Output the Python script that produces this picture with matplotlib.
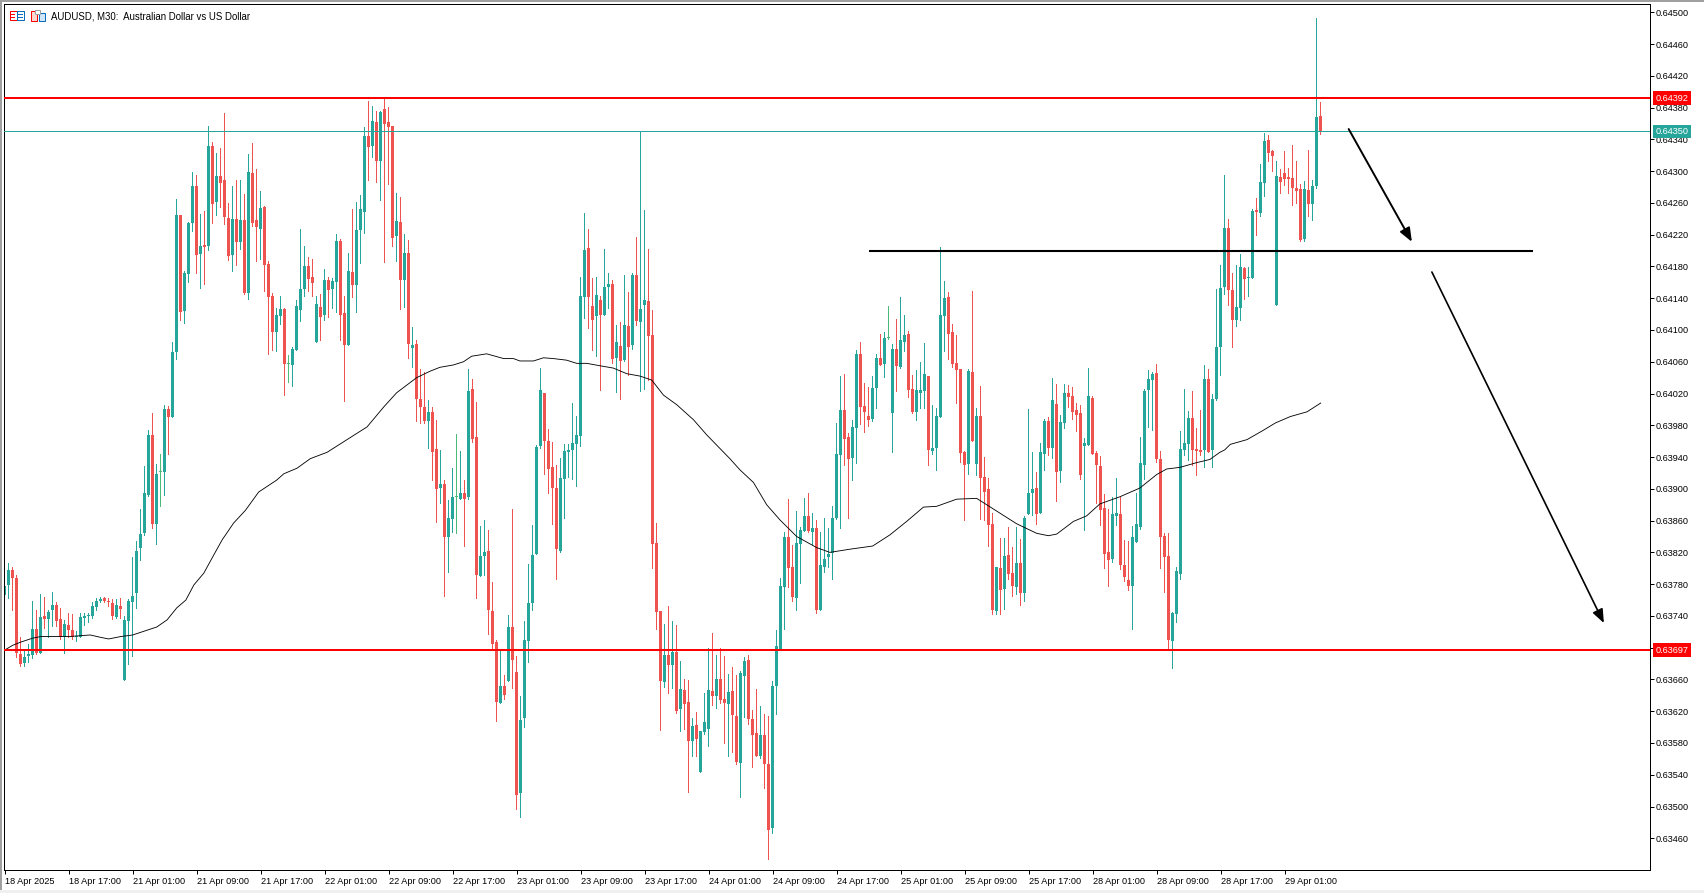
#!/usr/bin/env python
import numpy as np
import matplotlib
matplotlib.use("Agg")
import matplotlib.pyplot as plt
from matplotlib.patches import Rectangle

# AUDUSD M30 candles, prices in points (1e-5)
opens = [
    63766, 63779, 63798, 63788, 63692, 63681, 63690, 63691, 63723, 63693,
    63740, 63736, 63747, 63754, 63736, 63714, 63729, 63722, 63714, 63714,
    63737, 63740, 63740, 63751, 63759, 63763, 63759, 63756, 63739, 63752,
    63659, 63734, 63758, 63769, 63826, 63844, 63892, 63968, 63856, 63921,
    63921, 64000, 63990, 64072, 64245, 64124, 64171, 64235, 64281, 64196,
    64207, 64206, 64332, 64261, 64294, 64289, 64241, 64194, 64240, 64211,
    64239, 64147, 64298, 64239, 64227, 64255, 64183, 64143, 64098, 64118,
    64127, 64057, 64056, 64075, 64125, 64152, 64181, 64167, 64085, 64129,
    64119, 64163, 64152, 64161, 64212, 64122, 64081, 64173, 64157, 64226,
    64249, 64344, 64332, 64362, 64313, 64378, 64362, 64357, 64218, 64236,
    64163, 64197, 64077, 64082, 64013, 64003, 63985, 63997, 63950, 63901,
    63906, 63839, 63862, 63890, 63887, 63895, 63890, 64026, 63965, 63790,
    63815, 63822, 63746, 63707, 63630, 63652, 63658, 63726, 63669, 63517,
    63612, 63708, 63756, 63818, 63954, 64021, 63960, 63928, 63901, 63822,
    63912, 63946, 63949, 63957, 63967, 64142, 64203, 64130, 64118, 64138,
    64119, 64154, 64158, 64065, 64080, 64062, 64105, 64081, 64169, 64110,
    64132, 64136, 64094, 63832, 63746, 63657, 63691, 63678, 63695, 63623,
    63647, 63632, 63583, 63603, 63543, 63594, 63598, 63646, 63639, 63660,
    63635, 63629, 63646, 63614, 63555, 63664, 63685, 63610, 63593, 63564,
    63590, 63553, 63473, 63652, 63697, 63776, 63839, 63801, 63763, 63831,
    63847, 63866, 63846, 63851, 63747, 63801, 63814, 63819, 63863, 63943,
    63999, 63965, 63939, 63977, 64070, 64004, 63992, 63988, 64027, 64065,
    64057, 64090, 63995, 64076, 64053, 64085, 64095, 64026, 63997, 64021,
    64023, 64042, 63948, 63951, 63990, 64118, 64142, 64097, 64058, 64051,
    63946, 63931, 64047, 63931, 63992, 63915, 63900, 63856, 63746, 63800,
    63774, 63817, 63794, 63776, 63807, 63769, 63868, 63895, 63901, 63870,
    63944, 63985, 63951, 64007, 63922, 63983, 64021, 64017, 63999, 63996,
    63954, 63955, 64014, 63945, 63929, 63876, 63820, 63812, 63866, 63868,
    63804, 63785, 63778, 63833, 63852, 63930, 64024, 64037, 64046, 63938,
    63841, 63815, 63708, 63742, 63793, 63949, 63957, 63989, 63950, 63948,
    63949, 64038, 63949, 64013, 64079, 64154, 64228, 64150, 64113, 64128,
    64178, 64165, 64165, 64251, 64247, 64285, 64339, 64325, 64131, 64293,
    64298, 64293, 64291, 64279, 64278, 64214, 64276, 64259, 64281, 64369,
]
closes = [
    63778, 63798, 63788, 63693, 63680, 63688, 63692, 63723, 63693, 63739,
    63736, 63745, 63754, 63734, 63714, 63730, 63722, 63714, 63715, 63739,
    63740, 63741, 63752, 63759, 63761, 63759, 63758, 63740, 63754, 63749,
    63735, 63759, 63765, 63822, 63843, 63895, 63968, 63856, 63919, 63921,
    64000, 63990, 64072, 64245, 64123, 64172, 64235, 64281, 64194, 64206,
    64205, 64332, 64259, 64294, 64285, 64242, 64193, 64240, 64211, 64239,
    64147, 64299, 64235, 64230, 64254, 64182, 64142, 64098, 64119, 64127,
    64057, 64057, 64076, 64130, 64152, 64180, 64164, 64159, 64133, 64116,
    64163, 64150, 64162, 64212, 64119, 64081, 64174, 64157, 64226, 64252,
    64344, 64330, 64363, 64313, 64374, 64359, 64356, 64216, 64237, 64163,
    64197, 64082, 64081, 64013, 64003, 63985, 63997, 63947, 63900, 63906,
    63839, 63863, 63890, 63890, 63895, 63887, 64023, 63963, 63792, 63815,
    63820, 63747, 63705, 63632, 63652, 63640, 63726, 63685, 63514, 63609,
    63710, 63756, 63817, 63953, 64024, 63960, 63925, 63901, 63824, 63914,
    63948, 63949, 63958, 63968, 64143, 64201, 64142, 64113, 64144, 64119,
    64154, 64158, 64064, 64085, 64061, 64106, 64079, 64169, 64111, 64126,
    64138, 64092, 63831, 63745, 63658, 63691, 63678, 63695, 63620, 63648,
    63629, 63583, 63601, 63585, 63595, 63606, 63647, 63639, 63660, 63634,
    63630, 63644, 63615, 63556, 63668, 63683, 63610, 63590, 63563, 63590,
    63554, 63471, 63652, 63702, 63778, 63839, 63800, 63764, 63832, 63848,
    63866, 63847, 63851, 63747, 63804, 63812, 63818, 63863, 63944, 63999,
    63963, 63937, 63978, 64070, 64003, 63997, 63987, 64027, 64065, 64056,
    64090, 64090, 64076, 64055, 64087, 64094, 64024, 63997, 64024, 64024,
    64045, 63949, 63951, 63992, 64119, 64140, 64095, 64057, 64050, 63945,
    63930, 64048, 63960, 63992, 63914, 63896, 63855, 63747, 63801, 63773,
    63816, 63793, 63778, 63807, 63769, 63863, 63895, 63900, 63868, 63946,
    63985, 63951, 64012, 63921, 63984, 64021, 64016, 63997, 63993, 63918,
    63958, 64017, 63944, 63930, 63873, 63818, 63810, 63868, 63870, 63804,
    63789, 63778, 63839, 63856, 63933, 64023, 64038, 64045, 63938, 63839,
    63814, 63710, 63744, 63797, 63950, 63958, 63989, 63949, 63948, 63947,
    64038, 63946, 64013, 64079, 64153, 64228, 64150, 64113, 64129, 64179,
    64164, 64167, 64250, 64249, 64286, 64338, 64323, 64319, 64294, 64286,
    64290, 64290, 64279, 64275, 64213, 64278, 64259, 64281, 64368, 64350,
]
highs = [
    63783, 63806, 63801, 63792, 63714, 63697, 63705, 63759, 63748, 63768,
    63764, 63748, 63770, 63758, 63750, 63735, 63744, 63742, 63721, 63744,
    63744, 63744, 63758, 63763, 63764, 63764, 63763, 63761, 63761, 63763,
    63740, 63761, 63814, 63834, 63875, 63929, 63974, 63995, 63931, 63944,
    64006, 64004, 64085, 64265, 64245, 64174, 64236, 64299, 64295, 64246,
    64250, 64357, 64337, 64323, 64329, 64373, 64260, 64281, 64289, 64289,
    64271, 64322, 64335, 64303, 64275, 64256, 64187, 64146, 64128, 64143,
    64128, 64068, 64079, 64138, 64227, 64206, 64192, 64189, 64143, 64145,
    64177, 64167, 64166, 64221, 64215, 64143, 64197, 64252, 64261, 64270,
    64356, 64388, 64382, 64376, 64376, 64391, 64381, 64357, 64272, 64268,
    64221, 64213, 64104, 64087, 64051, 64047, 64012, 64003, 63987, 63949,
    63911, 63886, 63926, 63969, 63948, 63911, 64051, 64038, 64009, 63853,
    63861, 63848, 63783, 63710, 63696, 63666, 63741, 63875, 63689, 63639,
    63734, 63805, 63855, 63955, 64052, 64021, 63975, 63959, 63930, 63939,
    63956, 63956, 64008, 63992, 64167, 64247, 64227, 64165, 64167, 64143,
    64202, 64172, 64163, 64106, 64110, 64169, 64148, 64172, 64217, 64349,
    64251, 64202, 64125, 63857, 63746, 63730, 63752, 63734, 63729, 63683,
    63660, 63659, 63612, 63619, 63595, 63643, 63700, 63718, 63691, 63700,
    63689, 63667, 63676, 63666, 63671, 63688, 63691, 63622, 63648, 63627,
    63617, 63614, 63658, 63722, 63788, 63846, 63887, 63829, 63872, 63852,
    63889, 63895, 63870, 63861, 63846, 63863, 63851, 63878, 63983, 64042,
    64045, 63970, 63987, 64075, 64085, 64033, 64028, 64042, 64070, 64095,
    64098, 64130, 64082, 64114, 64142, 64119, 64099, 64043, 64050, 64060,
    64084, 64042, 64006, 64002, 64205, 64162, 64148, 64108, 64094, 64051,
    63948, 64051, 64149, 64002, 64029, 63940, 63914, 63870, 63801, 63838,
    63838, 63852, 63827, 63852, 63837, 63866, 64001, 63946, 63921, 63958,
    63988, 63990, 64040, 64032, 63993, 64032, 64031, 64028, 64008, 64006,
    63964, 64052, 64017, 63948, 63941, 63894, 63875, 63890, 63914, 63890,
    63836, 63834, 63853, 63895, 63965, 64026, 64050, 64047, 64057, 63948,
    63844, 63844, 63745, 63801, 63973, 64026, 63998, 64023, 63977, 63999,
    64056, 64051, 64019, 64152, 64182, 64295, 64240, 64172, 64182, 64196,
    64179, 64179, 64252, 64266, 64309, 64348, 64346, 64327, 64313, 64303,
    64325, 64304, 64333, 64313, 64284, 64288, 64327, 64289, 64493, 64387,
]
lows = [
    63764, 63763, 63747, 63688, 63677, 63677, 63682, 63687, 63692, 63693,
    63725, 63714, 63727, 63727, 63711, 63693, 63714, 63711, 63709, 63714,
    63729, 63732, 63737, 63747, 63758, 63758, 63752, 63736, 63737, 63737,
    63659, 63680, 63689, 63750, 63810, 63842, 63891, 63851, 63831, 63878,
    63892, 63944, 63990, 64063, 64113, 64109, 64160, 64225, 64172, 64153,
    64158, 64201, 64235, 64245, 64255, 64234, 64188, 64174, 64182, 64202,
    64145, 64139, 64231, 64187, 64189, 64149, 64070, 64075, 64074, 64108,
    64018, 64034, 64029, 64075, 64111, 64143, 64149, 64143, 64085, 64088,
    64113, 64116, 64128, 64123, 64088, 64011, 64081, 64142, 64123, 64184,
    64222, 64289, 64318, 64286, 64264, 64186, 64284, 64206, 64187, 64126,
    64129, 64065, 64053, 63985, 63983, 63983, 63951, 63911, 63858, 63882,
    63765, 63795, 63846, 63844, 63887, 63828, 63887, 63959, 63763, 63790,
    63792, 63717, 63700, 63608, 63630, 63635, 63658, 63649, 63497, 63487,
    63600, 63682, 63747, 63818, 63951, 63919, 63895, 63856, 63786, 63821,
    63863, 63915, 63913, 63904, 63954, 64115, 64103, 64075, 64067, 64024,
    64119, 64128, 64058, 64022, 64013, 64061, 64043, 64076, 64106, 64023,
    64026, 64037, 63800, 63724, 63596, 63650, 63643, 63649, 63618, 63595,
    63598, 63518, 63563, 63563, 63543, 63591, 63576, 63628, 63624, 63630,
    63580, 63564, 63569, 63554, 63512, 63613, 63604, 63550, 63563, 63561,
    63523, 63434, 63467, 63617, 63697, 63723, 63776, 63759, 63747, 63781,
    63847, 63846, 63831, 63744, 63747, 63795, 63801, 63786, 63862, 63851,
    63930, 63863, 63911, 63932, 63982, 63971, 63979, 63985, 64002, 64056,
    64041, 64089, 63946, 64023, 64052, 64073, 64016, 63996, 63987, 64002,
    64002, 63930, 63944, 63924, 63990, 64074, 64063, 64053, 64008, 63934,
    63861, 63919, 63960, 63917, 63862, 63861, 63828, 63742, 63742, 63742,
    63749, 63786, 63765, 63768, 63754, 63759, 63868, 63867, 63856, 63870,
    63924, 63943, 63939, 63885, 63909, 63977, 64003, 63988, 63973, 63913,
    63848, 63955, 63944, 63882, 63855, 63800, 63778, 63808, 63855, 63799,
    63784, 63773, 63724, 63833, 63850, 63912, 63978, 63974, 63934, 63800,
    63770, 63697, 63675, 63732, 63786, 63943, 63936, 63930, 63918, 63943,
    63928, 63946, 63928, 64012, 64043, 64145, 64131, 64079, 64105, 64113,
    64139, 64143, 64165, 64220, 64244, 64269, 64313, 64300, 64131, 64272,
    64283, 64272, 64257, 64260, 64212, 64212, 64244, 64239, 64279, 64347,
]

# moving average, read at the bends only
ma_bars = [
    0, 2, 4, 7, 9, 16, 21.4, 24, 26, 29, 32, 35.6, 38, 40.6, 43, 45.3, 47.3,
    49.8, 52.3, 54.4, 57.25, 60.2, 63.5, 68, 69.8, 73.1, 76.4, 80.6, 85.6,
    90.6, 94.75, 98, 103, 106.3, 108.8, 112.2, 114.7, 116.75, 120.5, 124.75,
    127.2, 128.8, 132.2, 134.7, 137.2, 140.5, 143, 145.5, 148.8, 152.2, 155.5,
    158.8, 161.75, 164.7, 168, 172.2, 175.5, 181.3, 183.8, 187.2, 190.5, 193.8,
    198, 203, 206.3, 211.3, 217, 221.3, 225.5, 229.7, 233, 238, 243, 248, 253,
    258, 260.9, 263, 267.2, 270.5, 273.8, 278.8, 283.8, 288, 290.5, 293.8, 298,
    301.3, 303.8, 305, 306.4, 310.6, 314.75, 317.7, 321.4, 325.6, 329,
]
ma_values = [
    63697, 63703, 63707, 63712, 63714, 63714, 63716, 63713, 63711, 63714, 63716,
    63722, 63726, 63735, 63750, 63760, 63779, 63794, 63817, 63836, 63857, 63873,
    63896, 63911, 63919, 63926, 63938, 63946, 63962, 63978, 64003, 64021, 64040,
    64048, 64053, 64056, 64060, 64067, 64070, 64064, 64064, 64061, 64061, 64065,
    64064, 64062, 64058, 64058, 64055, 64052, 64045, 64042, 64037, 64018, 64006,
    63987, 63968, 63938, 63924, 63908, 63880, 63861, 63840, 63826, 63820, 63824,
    63828, 63842, 63859, 63877, 63878, 63887, 63888, 63872, 63856, 63844, 63841,
    63843, 63859, 63866, 63881, 63890, 63901, 63918, 63925, 63927, 63933, 63937,
    63946, 63949, 63956, 63962, 63974, 63983, 63991, 63997, 64008,
]

resistance = 0.64392
support = 0.63697
last_price = 0.64350
neckline = 0.64200

y_ticks = [0.64500 - 0.0004 * i for i in range(27)]
x_ticks = list(range(0, 321, 16))
x_labels = [
    "18 Apr 2025", "18 Apr 17:00", "21 Apr 01:00", "21 Apr 09:00",
    "21 Apr 17:00", "22 Apr 01:00", "22 Apr 09:00", "22 Apr 17:00",
    "23 Apr 01:00", "23 Apr 09:00", "23 Apr 17:00", "24 Apr 01:00",
    "24 Apr 09:00", "24 Apr 17:00", "25 Apr 01:00", "25 Apr 09:00",
    "25 Apr 17:00", "28 Apr 01:00", "28 Apr 09:00", "28 Apr 17:00",
    "29 Apr 01:00",
]

UP = "#26a69a"
DOWN = "#ef5350"
DOJI = "#4cbb7a"
RED = "#ff0000"
BLUE = "#0a6ebd"
PX = 0.72  # one pixel in points at dpi 100


def price_label(ax, price, color):
    ax.annotate(f"{price:.5f}", xy=(1, price), xycoords=("axes fraction", "data"),
                xytext=(4.3, 0), textcoords="offset points", va="center", ha="left",
                color="white", fontsize=6.6, annotation_clip=False, zorder=6,
                bbox=dict(boxstyle="square,pad=0.25", fc=color, ec=color, lw=0))


def px_box(fig, x0, y0, w, h, **kw):
    # rectangle given in window pixels, y from the top
    fig.add_artist(Rectangle((x0 / 1704, 1 - (y0 + h) / 893), w / 1704, h / 893,
                             transform=fig.transFigure, **kw))


def main():
    o = np.array(opens) / 1e5
    c = np.array(closes) / 1e5
    h = np.array(highs) / 1e5
    l = np.array(lows) / 1e5
    x = np.arange(len(o))

    colors = np.where(c > o, UP, DOWN)
    colors[c == o] = DOJI

    plt.rcParams["font.family"] = ["Liberation Sans", "DejaVu Sans"]
    fig = plt.figure(figsize=(17.04, 8.93), dpi=100)
    ax = fig.add_axes([3.5 / 1704, 1 - 870 / 893, 1646 / 1704, 866.5 / 893])

    # wicks shifted half a pixel, otherwise they snap off the body centre
    ax.vlines(x - 0.125, l, h, colors=colors, linewidth=PX, antialiased=False, zorder=2)
    ax.bar(x, np.maximum(np.abs(c - o), 1.3e-5), bottom=np.minimum(o, c), width=0.75,
           color=colors, linewidth=0, antialiased=False, zorder=2)

    ax.plot(ma_bars, np.array(ma_values) / 1e5, color="black", lw=0.62, zorder=3)

    ax.axhline(resistance, color=RED, lw=2 * PX, zorder=4)
    ax.axhline(support, color=RED, lw=2 * PX, zorder=4)
    ax.axhline(last_price, color=UP, lw=PX, zorder=4)

    # hand drawn levels
    ax.plot([216, 382], [neckline, neckline], color="black", lw=1.5, zorder=5,
            solid_capstyle="butt")
    head = "-|>,head_length=0.55,head_width=0.22"
    ax.annotate("", xy=(351.8, 0.64211), xytext=(336, 0.64353), zorder=5,
                arrowprops=dict(arrowstyle=head, color="black", lw=1.4,
                                shrinkA=0, shrinkB=0, mutation_scale=15))
    ax.annotate("", xy=(399.8, 0.63731), xytext=(356.8, 0.64173), zorder=5,
                arrowprops=dict(arrowstyle=head, color="black", lw=1.2,
                                shrinkA=0, shrinkB=0, mutation_scale=15))

    ax.set_xlim((3.5 - 4.67) / 4, (1649.5 - 4.67) / 4)
    ax.set_ylim(0.645 - (870 - 12.3) / 79423, 0.645 + (12.3 - 3.5) / 79423)

    ax.yaxis.tick_right()
    ax.set_yticks(y_ticks)
    ax.set_yticklabels([f"{t:.5f}" for t in y_ticks])
    ax.set_xticks(x_ticks)
    ax.set_xticklabels(x_labels, ha="left")
    ax.tick_params(axis="both", length=3, width=PX, labelsize=6.6, pad=1.5)
    ax.tick_params(axis="x", pad=1.8)
    for spine in ax.spines.values():
        spine.set_linewidth(PX)

    price_label(ax, resistance, RED)
    price_label(ax, last_price, UP)
    price_label(ax, support, RED)

    # header and window frame
    ax.text(51.2 / 1704, 1 - 16.2 / 893, "AUDUSD, M30:  Australian Dollar vs US Dollar",
            transform=fig.transFigure, fontsize=6.9, va="center", ha="left", color="black")

    px_box(fig, 9.5, 11, 7, 9, fc="none", ec=RED, lw=PX)
    px_box(fig, 16.5, 11, 7, 9, fc="none", ec=BLUE, lw=PX)
    for row in (14, 17):
        px_box(fig, 11, row, 4.5, 0.8, fc=RED, ec="none")
        px_box(fig, 18, row, 4.5, 0.8, fc=BLUE, ec="none")
    px_box(fig, 30.5, 11, 6.5, 9.5, fc="#ffd6d0", ec=RED, lw=PX)
    px_box(fig, 38.5, 13, 6, 7.5, fc="#cfe6fa", ec=BLUE, lw=PX)
    px_box(fig, 35, 10.5, 5, 3, fc="white", ec="#a0a0a0", lw=PX)

    px_box(fig, 0, 0, 1704, 2, fc="#a0a0a0", ec="none")
    px_box(fig, 0, 0, 2, 893, fc="#a0a0a0", ec="none")
    px_box(fig, 0, 890, 1704, 3, fc="#f0f0f0", ec="none")

    fig.savefig("out.png", dpi=100)


if __name__ == "__main__":
    main()
